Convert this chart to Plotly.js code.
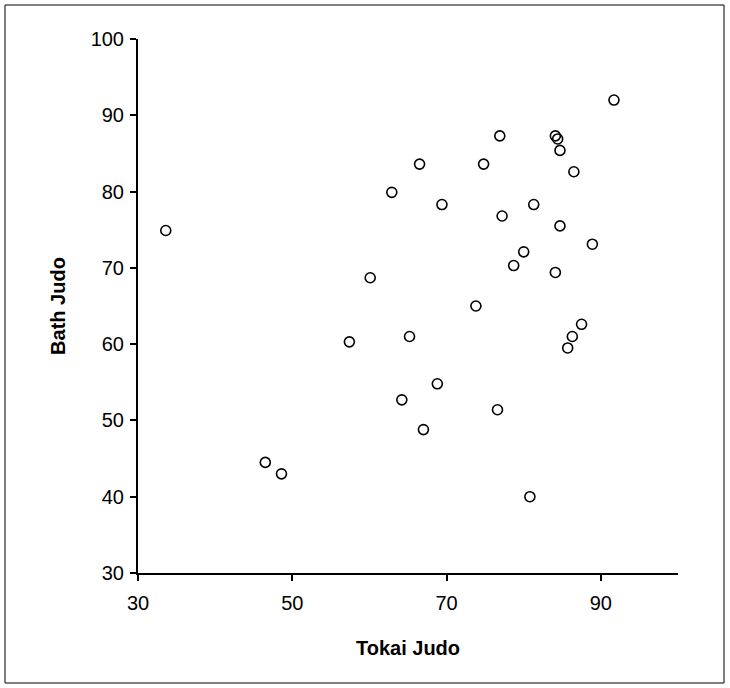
<!DOCTYPE html>
<html>
<head>
<meta charset="utf-8">
<script src="https://cdn.plot.ly/plotly-3.0.1.min.js"></script>
<style>
  html, body { margin: 0; padding: 0; background: #ffffff; }
  #chart { width: 730px; height: 688px; }
</style>
</head>
<body>
<div id="chart"></div>
<script>
// Tokai Judo (x) and Bath Judo (y) scores
const tokaiJudo = [33.6, 66.5, 62.9, 60.1, 57.4, 65.2, 91.7, 76.9, 84.1, 84.4,
                   84.7, 74.8, 86.5, 69.4, 81.3, 77.2, 84.7, 88.9, 80.0, 78.7,
                   84.1, 73.8, 87.5, 86.3, 85.7, 68.8, 64.2, 67.0, 46.5, 48.6,
                   76.6, 80.8];
const bathJudo  = [74.9, 83.6, 79.9, 68.7, 60.3, 61.0, 92.0, 87.3, 87.3, 86.9,
                   85.4, 83.6, 82.6, 78.3, 78.3, 76.8, 75.5, 73.1, 72.1, 70.3,
                   69.4, 65.0, 62.6, 61.0, 59.5, 54.8, 52.7, 48.8, 44.5, 43.0,
                   51.4, 40.0];
const xTicks = [30, 50, 70, 90];
const yTicks = [30, 40, 50, 60, 70, 80, 90, 100];
const xTitle = "Tokai Judo";
const yTitle = "Bath Judo";

const FONT = "Liberation Sans, Arial, sans-serif";

const trace = {
  type: "scatter",
  mode: "markers",
  x: tokaiJudo,
  y: bathJudo,
  marker: {
    symbol: "circle-open",
    size: 10,
    color: "#000000",
    line: { color: "#000000", width: 1.6 }
  },
  cliponaxis: false,
  hoverinfo: "x+y"
};

const layout = {
  width: 730,
  height: 688,
  margin: { l: 138, r: 52, t: 39, b: 115 },
  paper_bgcolor: "#ffffff",
  plot_bgcolor: "#ffffff",
  showlegend: false,
  font: { family: FONT, color: "#000000", size: 20 },
  xaxis: {
    range: [30, 100],
    tickmode: "array",
    tickvals: xTicks,
    ticktext: xTicks.map(String),
    showgrid: false,
    zeroline: false,
    showline: true,
    linecolor: "#000000",
    linewidth: 1.5,
    ticks: "outside",
    ticklen: 6,
    tickwidth: 2,
    tickcolor: "#000000",
    ticklabelstandoff: 5,
    tickfont: { family: FONT, size: 20, color: "#000000" },
    title: { text: xTitle, font: { family: FONT, size: 20, color: "#000000", weight: "bold" }, standoff: 28 },
    fixedrange: true
  },
  yaxis: {
    range: [30, 100],
    tickmode: "array",
    tickvals: yTicks,
    ticktext: yTicks.map(String),
    showgrid: false,
    zeroline: false,
    showline: true,
    linecolor: "#000000",
    linewidth: 2,
    ticks: "outside",
    ticklen: 6,
    tickwidth: 2,
    tickcolor: "#000000",
    ticklabelstandoff: 2,
    tickfont: { family: FONT, size: 20, color: "#000000" },
    title: { text: yTitle, font: { family: FONT, size: 20, color: "#000000", weight: "bold" }, standoff: 20 },
    fixedrange: true
  },
  shapes: [{
    type: "rect",
    xref: "paper", yref: "paper",
    x0: (5 - 138) / 540, x1: (724 - 138) / 540,
    y0: (573 - 683) / 534, y1: (573 - 5) / 534,
    line: { color: "#000000", width: 1 },
    fillcolor: "rgba(0,0,0,0)",
    layer: "below"
  }]
};

Plotly.newPlot("chart", [trace], layout, { displayModeBar: false, staticPlot: true });
</script>
</body>
</html>
